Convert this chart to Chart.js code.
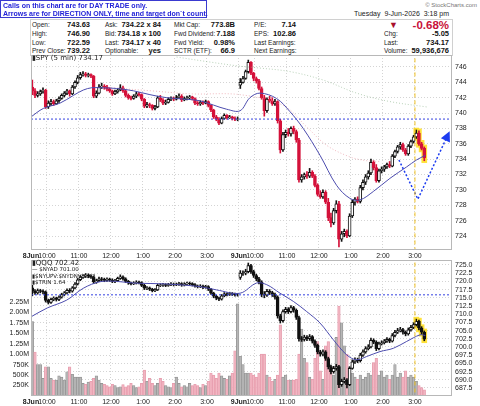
<!DOCTYPE html>
<html>
<head>
<meta charset="utf-8">
<script src="https://cdn.jsdelivr.net/npm/chart.js@4.4.1/dist/chart.umd.min.js"></script>
<style>
    body { margin: 0; width: 480px; height: 406px; position: relative; overflow: hidden; background: #fff;
           font-family: "Liberation Sans", Arial, sans-serif; }
    .t { position: absolute; white-space: nowrap; font-size: 6.5px; line-height: 10px; color: #222; }
    .v { font-weight: bold; font-size: 7.5px; color: #111; }
    .lg { position: absolute; white-space: nowrap; font-family: "DejaVu Sans", sans-serif; color: #222; }
    #callout { position: absolute; left: 0; top: 0; width: 205px; height: 16px; border: 1px solid #3a3ad0;
               background: #fff; z-index: 3; }
    #callout div { position: absolute; left: 2px; font-weight: bold; font-size: 7px; line-height: 8px; color: #2323d8;
                   white-space: nowrap; }
    #table { position: absolute; left: 30px; top: 19px; width: 421px; height: 36px; border: 1px solid #d0d0d0; border-bottom: none; }
    canvas { position: absolute; left: 0; }
</style>
</head>
<body>

<div id="callout">
    <div style="top:1px">Calls on this chart are for DAY TRADE only.</div>
    <div style="top:9px">Arrows are for DIRECTION ONLY, time and target don`t count.</div>
</div>
<div id="table"></div>

<div class="t" style="right:3px;top:0px;font-size:6px;color:#777">&copy; StockCharts.com</div>
<div class="t" style="right:31px;top:9px;font-size:7px">Tuesday&nbsp; 9-Jun-2026&nbsp; 3:18 pm</div>

<!-- row 1 -->
<div class="t" style="left:32px;top:20px">Open:</div>
<div class="t v" style="right:390px;top:20px">743.63</div>
<div class="t" style="left:105px;top:20px">Ask:</div>
<div class="t v" style="right:319px;top:20px">734.22 x 84</div>
<div class="t" style="left:174px;top:20px">Mkt Cap:</div>
<div class="t v" style="right:245px;top:20px">773.8B</div>
<div class="t" style="left:254px;top:20px">P/E:</div>
<div class="t v" style="right:184px;top:20px">7.14</div>
<div class="t" style="left:389px;top:20px;color:#a8102c;font-size:9px">&#9660;</div>
<div class="t v" style="right:31px;top:19px;color:#c8103a;font-size:11.5px;line-height:12px">-0.68%</div>
<!-- row 2 -->
<div class="t" style="left:32px;top:29px">High:</div>
<div class="t v" style="right:390px;top:29px">746.90</div>
<div class="t" style="left:105px;top:29px">Bid:</div>
<div class="t v" style="right:319px;top:29px">734.18 x 100</div>
<div class="t" style="left:174px;top:29px">Fwd Dividend:</div>
<div class="t v" style="right:245px;top:29px">7.188</div>
<div class="t" style="left:254px;top:29px">EPS:</div>
<div class="t v" style="right:184px;top:29px">102.86</div>
<div class="t" style="left:384px;top:29px">Chg:</div>
<div class="t v" style="right:31px;top:29px">-5.05</div>
<!-- row 3 -->
<div class="t" style="left:32px;top:37.5px">Low:</div>
<div class="t v" style="right:390px;top:37.5px">722.59</div>
<div class="t" style="left:105px;top:37.5px">Last:</div>
<div class="t v" style="right:319px;top:37.5px">734.17 x 40</div>
<div class="t" style="left:174px;top:37.5px">Fwd Yield:</div>
<div class="t v" style="right:245px;top:37.5px">0.98%</div>
<div class="t" style="left:254px;top:37.5px">Last Earnings:</div>
<div class="t" style="left:384px;top:37.5px">Last:</div>
<div class="t v" style="right:31px;top:37.5px">734.17</div>
<!-- row 4 -->
<div class="t" style="left:32px;top:46px">Prev Close:</div>
<div class="t v" style="right:390px;top:46px">739.22</div>
<div class="t" style="left:105px;top:46px">Optionable:</div>
<div class="t v" style="right:319px;top:46px">yes</div>
<div class="t" style="left:174px;top:46px">SCTR (ETF):</div>
<div class="t v" style="right:245px;top:46px">66.9</div>
<div class="t" style="left:254px;top:46px">Next Earnings:</div>
<div class="t" style="left:384px;top:46px">Volume:</div>
<div class="t v" style="right:31px;top:46px">59,936,676</div>

<canvas id="spyChart" width="480" height="205" style="top:55px"></canvas>
<canvas id="qqqChart" width="480" height="146" style="top:260px"></canvas>

<div class="lg" style="left:32px;top:54px;font-size:7px;line-height:9px"><b>&#9646;</b>SPY (5 min) 734.17</div>
<div class="lg" style="left:32px;top:259px;font-size:7px;line-height:9px"><b>&#9646;</b>QQQ 702.42</div>
<div class="lg" style="left:32px;top:266px;font-size:5.5px;line-height:7px">&mdash;&nbsp;$NYAD 701.00</div>
<div class="lg" style="left:32px;top:272.5px;font-size:5.5px;line-height:7px"><b>&#9646;</b>$NYUPV:$NYDNV 1.02</div>
<div class="lg" style="left:32px;top:279px;font-size:5.5px;line-height:7px"><b>&#9646;</b>$TRIN 1.64</div>

<script>
document.addEventListener('DOMContentLoaded', function() {

    // ======================= //
    //          DATA           //
    // ======================= //
    // one entry per 5-min bar: 78 bars on 8 Jun, 70 bars on 9 Jun (to 3:15)
    const spyOpen = [
        743.4, 742.9, 742.3, 742.5, 742.8, 743.0, 740.8, 741.3, 741.5, 741.2,
        741.6, 741.9, 742.3, 742.6, 742.9, 742.5, 743.4, 744.0, 744.6, 745.0,
        745.1, 744.9, 745.0, 744.8, 742.2, 742.6, 743.4, 743.5, 743.4, 743.1,
        742.9, 742.5, 742.8, 743.0, 743.3, 742.9, 742.3, 742.0, 741.9, 742.2,
        742.5, 742.4, 741.8, 740.9, 741.1, 741.0, 740.6, 740.8, 742.0, 741.7,
        741.3, 741.4, 741.8, 741.9, 741.8, 742.0, 742.2, 741.7, 741.9, 742.0,
        742.1, 741.9, 741.3, 741.2, 741.4, 741.3, 741.5, 741.0, 740.4, 739.5,
        739.2, 738.7, 739.3, 739.7, 739.4, 739.5, 739.3, 739.2,
        743.63, 744.0, 744.5, 745.4, 746.6, 745.2, 744.5, 744.2, 743.2, 742.0,
        740.3, 741.8, 741.6, 741.2, 741.5, 739.0, 735.2, 737.2, 737.5, 737.3,
        738.0, 737.6, 736.5, 731.3, 731.7, 732.0, 731.8, 732.3, 731.8, 730.6,
        729.4, 729.1, 729.7, 728.4, 726.4, 725.7, 727.3, 728.2, 723.6, 724.3,
        724.6, 724.0, 726.6, 728.4, 728.8, 728.5, 730.3, 731.0, 731.7, 732.2,
        733.6, 732.9, 731.2, 732.5, 732.7, 733.0, 733.3, 733.1, 734.4, 735.0,
        735.6, 735.9, 735.2, 734.7, 735.7, 736.3, 736.9, 737.4, 736.0, 735.4
    ];
    const spyHigh = [
        744.3, 743.2, 742.8, 743.0, 743.3, 743.1, 741.6, 741.8, 741.7, 741.8,
        742.1, 742.5, 742.8, 743.1, 743.0, 743.6, 744.2, 744.9, 745.3, 745.4,
        745.3, 745.2, 745.1, 744.9, 742.9, 743.7, 743.9, 743.7, 743.6, 743.3,
        743.0, 743.0, 743.2, 743.7, 743.5, 743.0, 742.5, 742.2, 742.4, 742.7,
        742.7, 742.5, 741.9, 741.4, 741.3, 741.1, 741.0, 742.2, 742.3, 741.9,
        741.7, 742.0, 742.1, 742.1, 742.3, 742.5, 742.4, 742.1, 742.2, 742.3,
        742.2, 742.0, 741.5, 741.6, 741.6, 741.7, 741.6, 741.1, 740.5, 739.7,
        739.4, 739.5, 739.9, 739.8, 739.7, 739.6, 739.5, 739.5,
        744.5, 744.8, 745.6, 746.9, 746.7, 745.3, 744.7, 744.4, 743.4, 742.3,
        742.0, 742.2, 742.0, 741.8, 741.6, 739.2, 737.5, 737.8, 738.0, 738.2,
        738.3, 737.8, 736.7, 732.0, 732.2, 732.4, 732.8, 732.5, 732.0, 730.8,
        729.9, 730.0, 729.9, 728.9, 727.0, 727.6, 728.6, 728.5, 724.6, 724.9,
        724.8, 726.9, 728.7, 729.0, 729.1, 730.6, 731.3, 732.0, 732.5, 734.0,
        733.8, 733.3, 732.7, 733.0, 733.2, 733.5, 733.7, 734.6, 735.2, 735.8,
        736.2, 736.1, 735.4, 735.9, 736.5, 737.1, 737.8, 737.7, 736.2, 735.6
    ];
    const spyLow = [
        742.4, 742.0, 742.1, 742.3, 742.6, 740.6, 740.6, 741.0, 741.0, 741.1,
        741.4, 741.8, 742.1, 742.4, 742.2, 742.4, 743.2, 743.8, 744.4, 744.8,
        744.7, 744.7, 744.6, 742.0, 742.0, 742.5, 743.2, 743.1, 742.9, 742.7,
        742.3, 742.4, 742.6, 742.9, 742.7, 742.1, 741.8, 741.7, 741.8, 742.0,
        742.2, 741.6, 740.7, 740.7, 740.7, 740.4, 740.4, 740.7, 741.5, 741.1,
        741.1, 741.3, 741.6, 741.6, 741.7, 741.9, 741.5, 741.6, 741.7, 741.8,
        741.7, 741.1, 741.0, 741.0, 741.1, 741.2, 740.8, 740.2, 739.3, 739.0,
        738.5, 738.6, 739.2, 739.2, 739.3, 739.1, 739.0, 739.0,
        743.2, 743.9, 744.4, 745.2, 745.0, 744.2, 743.9, 743.0, 741.8, 739.6,
        740.1, 741.4, 741.0, 741.0, 738.7, 734.8, 735.0, 736.8, 737.0, 737.0,
        737.3, 736.2, 731.0, 731.0, 731.4, 731.5, 731.6, 731.6, 730.4, 729.2,
        728.9, 728.9, 728.2, 726.0, 725.2, 725.5, 727.0, 722.59, 723.3, 723.9,
        723.8, 723.9, 726.4, 728.0, 728.3, 728.3, 730.0, 730.7, 731.4, 732.0,
        732.6, 731.0, 731.0, 732.2, 732.4, 732.8, 732.9, 733.0, 734.2, 734.8,
        735.3, 735.0, 734.5, 734.5, 735.5, 736.1, 736.7, 735.8, 735.2, 733.8
    ];
    const spyClose = [
        742.9, 742.3, 742.5, 742.8, 743.0, 740.8, 741.3, 741.5, 741.2, 741.6,
        741.9, 742.3, 742.6, 742.9, 742.5, 743.4, 744.0, 744.6, 745.0, 745.1,
        744.9, 745.0, 744.8, 742.2, 742.6, 743.4, 743.5, 743.4, 743.1, 742.9,
        742.5, 742.8, 743.0, 743.3, 742.9, 742.3, 742.0, 741.9, 742.2, 742.5,
        742.4, 741.8, 740.9, 741.1, 741.0, 740.6, 740.8, 742.0, 741.7, 741.3,
        741.4, 741.8, 741.9, 741.8, 742.0, 742.2, 741.7, 741.9, 742.0, 742.1,
        741.9, 741.3, 741.2, 741.4, 741.3, 741.5, 741.0, 740.4, 739.5, 739.2,
        738.7, 739.3, 739.7, 739.4, 739.5, 739.3, 739.2, 739.22,
        744.0, 744.5, 745.4, 746.6, 745.2, 744.5, 744.2, 743.2, 742.0, 740.3,
        741.8, 741.6, 741.2, 741.5, 739.0, 735.2, 737.2, 737.5, 737.3, 738.0,
        737.6, 736.5, 731.3, 731.7, 732.0, 731.8, 732.3, 731.8, 730.6, 729.4,
        729.1, 729.7, 728.4, 726.4, 725.7, 727.3, 728.2, 723.6, 724.3, 724.6,
        724.0, 726.6, 728.4, 728.8, 728.5, 730.3, 731.0, 731.7, 732.2, 733.6,
        732.9, 731.2, 732.5, 732.7, 733.0, 733.3, 733.1, 734.4, 735.0, 735.6,
        735.9, 735.2, 734.7, 735.7, 736.3, 736.9, 737.4, 736.0, 735.4, 734.17
    ];

    const qqqOpen = [
        718.0, 717.0, 716.5, 717.2, 717.0, 716.8, 714.2, 713.6, 714.5, 714.8,
        714.5, 715.2, 716.0, 716.5, 717.3, 717.0, 718.0, 719.2, 720.5, 721.3,
        721.6, 721.9, 721.6, 721.4, 719.8, 720.2, 720.8, 720.6, 720.3, 720.7,
        720.4, 720.0, 720.2, 720.9, 721.4, 720.8, 720.0, 719.5, 719.3, 719.5,
        719.8, 719.6, 718.8, 717.9, 718.0, 717.6, 717.2, 717.4, 718.8, 718.9,
        719.0, 718.8, 719.0, 719.2, 719.0, 719.1, 719.3, 718.9, 719.2, 719.4,
        719.3, 719.0, 718.6, 718.4, 718.6, 718.2, 718.4, 717.6, 716.4, 715.5,
        714.9, 714.6, 715.6, 716.2, 716.0, 716.3, 716.1, 715.9,
        721.2, 722.5, 722.5, 723.0, 724.8, 723.0, 721.8, 720.8, 719.8, 716.0,
        715.8, 717.0, 716.6, 716.0, 715.2, 709.5, 708.0, 710.8, 711.5, 710.8,
        712.0, 711.2, 709.0, 702.5, 702.3, 703.0, 702.5, 703.2, 701.8, 700.5,
        698.5, 697.8, 698.5, 696.5, 694.0, 692.5, 693.5, 694.0, 688.5, 689.5,
        690.0, 688.5, 693.5, 695.5, 696.0, 695.8, 697.5, 698.5, 699.5, 700.0,
        702.0, 701.5, 699.5, 701.0, 701.3, 701.8, 702.3, 701.8, 703.5, 704.5,
        705.0, 705.3, 704.5, 704.0, 705.2, 706.0, 706.8, 707.8, 705.8, 704.5
    ];
    const qqqHigh = [
        718.8, 717.5, 717.7, 717.6, 717.4, 717.1, 714.6, 714.9, 715.3, 715.2,
        715.6, 716.4, 716.9, 717.7, 717.8, 718.4, 719.6, 720.9, 721.8, 722.1,
        722.4, 722.3, 722.0, 721.7, 720.7, 721.3, 721.2, 721.0, 721.1, 721.0,
        720.8, 720.6, 721.3, 722.0, 721.7, 721.1, 720.3, 719.8, 719.9, 720.2,
        720.1, 719.9, 719.1, 718.4, 718.3, 717.9, 717.8, 719.2, 719.3, 719.4,
        719.3, 719.4, 719.6, 719.5, 719.5, 719.7, 719.6, 719.6, 719.8, 719.8,
        719.6, 719.3, 718.9, 719.0, 718.9, 718.8, 718.7, 717.9, 716.7, 715.8,
        715.2, 716.0, 716.6, 716.5, 716.7, 716.6, 716.4, 716.3,
        723.3, 723.2, 723.7, 725.6, 725.2, 723.4, 722.2, 721.2, 720.2, 716.9,
        717.6, 717.5, 717.0, 716.4, 715.6, 710.0, 711.3, 712.1, 712.0, 712.6,
        712.4, 711.6, 709.4, 703.2, 703.6, 703.5, 703.8, 703.5, 702.2, 700.9,
        699.0, 699.1, 698.9, 696.9, 694.5, 694.1, 694.7, 694.4, 690.2, 690.7,
        690.4, 694.0, 696.1, 696.7, 696.6, 698.1, 699.1, 700.1, 700.7, 702.7,
        702.5, 701.9, 701.5, 701.9, 702.3, 702.9, 702.7, 704.1, 705.1, 705.7,
        706.0, 705.7, 704.9, 705.8, 706.6, 707.4, 708.5, 708.2, 706.2, 704.9
    ];
    const qqqLow = [
        715.6, 716.0, 716.1, 716.5, 716.2, 713.7, 713.1, 713.3, 714.1, 714.0,
        714.1, 714.9, 715.6, 716.2, 716.5, 716.7, 717.7, 718.9, 720.2, 720.9,
        721.2, 721.1, 720.9, 719.3, 719.4, 719.9, 720.2, 719.9, 720.0, 720.0,
        719.6, 719.6, 719.9, 720.6, 720.4, 719.6, 719.1, 718.9, 719.0, 719.2,
        719.2, 718.4, 717.5, 717.5, 717.2, 716.8, 716.9, 717.2, 718.4, 718.5,
        718.4, 718.5, 718.7, 718.6, 718.7, 718.8, 718.5, 718.6, 718.9, 718.9,
        718.6, 718.2, 718.0, 718.1, 717.8, 717.9, 717.2, 716.0, 715.0, 714.4,
        714.1, 714.3, 715.3, 715.6, 715.7, 715.7, 715.5, 715.5,
        720.6, 721.8, 722.0, 722.6, 722.4, 721.2, 720.2, 719.2, 715.3, 715.0,
        715.4, 716.0, 715.4, 714.6, 708.8, 707.3, 707.6, 710.3, 710.2, 710.4,
        710.6, 708.4, 701.8, 701.7, 701.8, 701.9, 702.0, 701.2, 699.9, 697.9,
        697.2, 697.3, 695.9, 693.3, 691.8, 692.0, 692.9, 687.6, 688.0, 689.0,
        687.5, 688.2, 693.2, 695.0, 695.2, 695.4, 697.1, 698.1, 699.1, 699.7,
        701.0, 698.9, 699.1, 700.6, 700.9, 701.4, 701.3, 701.5, 703.1, 704.1,
        704.6, 703.9, 703.4, 703.6, 704.8, 705.6, 706.4, 705.2, 703.9, 701.9
    ];
    const qqqClose = [
        717.0, 716.5, 717.2, 717.0, 716.8, 714.2, 713.6, 714.5, 714.8, 714.5,
        715.2, 716.0, 716.5, 717.3, 717.0, 718.0, 719.2, 720.5, 721.3, 721.6,
        721.9, 721.6, 721.4, 719.8, 720.2, 720.8, 720.6, 720.3, 720.7, 720.4,
        720.0, 720.2, 720.9, 721.4, 720.8, 720.0, 719.5, 719.3, 719.5, 719.8,
        719.6, 718.8, 717.9, 718.0, 717.6, 717.2, 717.4, 718.8, 718.9, 719.0,
        718.8, 719.0, 719.2, 719.0, 719.1, 719.3, 718.9, 719.2, 719.4, 719.3,
        719.0, 718.6, 718.4, 718.6, 718.2, 718.4, 717.6, 716.4, 715.5, 714.9,
        714.6, 715.6, 716.2, 716.0, 716.3, 716.1, 715.9, 715.9,
        722.5, 722.5, 723.0, 724.8, 723.0, 721.8, 720.8, 719.8, 716.0, 715.8,
        717.0, 716.6, 716.0, 715.2, 709.5, 708.0, 710.8, 711.5, 710.8, 712.0,
        711.2, 709.0, 702.5, 702.3, 703.0, 702.5, 703.2, 701.8, 700.5, 698.5,
        697.8, 698.5, 696.5, 694.0, 692.5, 693.5, 694.0, 688.5, 689.5, 690.0,
        688.5, 693.5, 695.5, 696.0, 695.8, 697.5, 698.5, 699.5, 700.0, 702.0,
        701.5, 699.5, 701.0, 701.3, 701.8, 702.3, 701.8, 703.5, 704.5, 705.0,
        705.3, 704.5, 704.0, 705.2, 706.0, 706.8, 707.8, 705.8, 704.5, 702.42
    ];

    // volume in millions of shares
    const volume = [
        1.78, 1.05, 0.75, 0.75, 0.42, 0.70, 0.70, 0.42, 0.38, 0.38,
        0.48, 0.45, 0.38, 0.58, 0.70, 0.52, 0.45, 0.45, 0.45, 0.30,
        0.28, 0.33, 0.35, 0.42, 0.48, 0.38, 0.30, 0.28, 0.25, 0.22,
        0.28, 0.25, 0.20, 0.22, 0.27, 0.22, 0.25, 0.30, 0.25, 0.20,
        0.22, 0.30, 0.62, 0.35, 0.42, 0.30, 0.25, 0.30, 0.42, 0.35,
        0.25, 0.22, 0.20, 0.30, 0.45, 0.30, 0.22, 0.25, 0.22, 0.30,
        0.25, 0.28, 0.25, 0.20, 0.28, 0.25, 0.35, 0.55, 0.50, 0.42,
        0.55, 0.48, 0.42, 0.40, 0.48, 0.55, 1.08, 2.20,
        0.95, 0.75, 0.55, 0.55, 0.55, 0.50, 0.45, 0.55, 1.00, 1.00,
        0.50, 0.45, 0.35, 0.40, 0.50, 1.70, 0.45, 0.50, 0.38, 0.38,
        0.38, 0.40, 1.00, 1.60, 0.90, 0.80, 0.45, 0.40, 0.90, 1.30,
        0.60, 0.40, 1.20, 1.30, 0.70, 0.50, 1.40, 2.15, 1.75, 1.20,
        1.00, 0.70, 0.55, 0.45, 0.40, 0.50, 0.40, 0.45, 0.55, 0.50,
        0.80, 0.90, 0.50, 0.60, 0.45, 0.50, 0.40, 0.50, 0.75, 0.45,
        0.55, 0.45, 0.60, 0.45, 0.50, 0.45, 0.35, 0.25, 0.20, 0.15
    ];

    // moving averages (x = bar position)
    const spyMaX  = [0, 4.6, 10.9, 15.9, 19.6, 22.8, 25.9, 32.1, 38.4, 44.6, 50.9, 58.4, 63.4, 68.4, 73.4, 78.4,
                     82.1, 85.9, 92.1, 97.1, 102.1, 108.4, 114.6, 119.6, 123.4, 128.4, 134.6, 140.9, 144.6, 147.9];
    const spyMaY  = [739.5, 740.6, 741.3, 742.3, 743.0, 743.3, 743.3, 743.2, 742.9, 742.4, 742.0, 741.8, 741.6, 741.05, 740.5, 740.3,
                     742.0, 742.6, 741.9, 740.2, 738.0, 734.5, 730.6, 728.9, 728.7, 729.8, 731.5, 733.0, 733.9, 734.5];
    const spyMa50X = [30, 45, 60, 78.4, 94.6, 103.4, 110.9, 119.6, 125.9, 130.9];
    const spyMa50Y = [743.3, 742.9, 742.5, 742.4, 741.0, 738.2, 735.8, 734.3, 733.8, 733.7];
    const spyMa200X = [54.6, 66, 78.4, 84.6, 97.1, 109.6, 122.1, 134.6, 148.4];
    const spyMa200Y = [747.3, 746.7, 746.1, 745.9, 745.4, 744.3, 742.6, 741.5, 740.8];

    const qqqMaX = [0, 6.1, 13.4, 19.6, 25.9, 32.1, 38.4, 50.9, 63.4, 69.6, 78.4,
                    84.6, 88.4, 93.4, 98.4, 103.4, 108.4, 113.4, 118.4, 122.1, 125.9, 130.9, 135.9, 140.9, 145.9, 147.9];
    const qqqMaY = [709.2, 711.9, 714.3, 717.9, 719.9, 720.0, 719.5, 719.2, 718.4, 717.4, 716.4,
                    719.5, 719.0, 716.4, 713.9, 710.8, 707.3, 702.2, 697.6, 696.1, 697.1, 698.6, 699.6, 701.7, 703.7, 703.5];

    const spyPrevClose = 739.22;
    const qqqPrevClose = 715.9;
    const arrowX = [138, 145.1, 156.7];
    const arrowY = [733.9, 728.8, 737.4];
    const markerX = 144;          // 3:00 pm on 9 Jun
    const highlightFrom = 144;    // last four bars are highlighted

    const xTickValues = [0, 6, 18, 30, 42, 54, 66, 78, 84, 96, 108, 120, 132, 144];
    const xTickLabels = ['8Jun', '10:00', '11:00', '12:00', '1:00', '2:00', '3:00',
                         '9Jun', '10:00', '11:00', '12:00', '1:00', '2:00', '3:00'];
    const spyTicks = [724, 726, 728, 730, 732, 734, 736, 738, 740, 742, 744, 746];
    const qqqTicks = [687.5, 690, 692.5, 695, 697.5, 700, 702.5, 705, 707.5, 710, 712.5, 715, 717.5, 720, 722.5, 725];
    const volTicks = [0.25, 0.5, 0.75, 1, 1.25, 1.5, 1.75, 2, 2.25];
    const volTickLabels = ['250K', '500K', '750K', '1.00M', '1.25M', '1.50M', '1.75M', '2.00M', '2.25M'];

    // ======================= //
    //        HELPERS          //
    // ======================= //
    const X_MAX = 157.9;
    const RED = '#d4113a';
    const GRID = '#d4d4d4';
    const FONT = '"Liberation Sans", Arial, sans-serif';

    const bars = (lo, hi) => lo.map((v, i) => ({ x: i + 0.5, y: [lo[i], hi[i]] }));
    const pts = (xs, ys) => xs.map((x, i) => ({ x: x, y: ys[i] }));
    const isUp = (o, c, i) => c[i] >= o[i];

    // chart.js keeps room for half a tick label at the ends; the panels here run edge to edge
    const noPad = s => { s.paddingTop = 0; s.paddingBottom = 0; s.paddingLeft = 0; s.paddingRight = 0; };

    function xScale() {
        return {
            type: 'linear', min: 0, max: X_MAX, offset: false,
            afterBuildTicks: s => { s.ticks = xTickValues.map(v => ({ value: v })); },
            afterFit: s => { s.height = 10; noPad(s); },
            grid: { color: c => c.index === 0 ? 'rgba(0,0,0,0)' : GRID, drawTicks: false, offset: false },
            border: { display: false, dash: [1, 2] },
            ticks: {
                autoSkip: false, maxRotation: 0, padding: 2, color: '#222',
                font: c => ({ family: FONT, size: 7, weight: c.index === 0 || c.index === 7 ? 'bold' : 'normal' }),
                callback: (v, i) => xTickLabels[i]
            }
        };
    }

    function lineSet(data, color, opts) {
        return Object.assign({
            type: 'line', data: data, borderColor: color, borderWidth: 1,
            pointRadius: 0, fill: false, tension: 0.35, order: 3
        }, opts || {});
    }

    const framePlugin = {
        id: 'frame',
        afterDraw(chart) {
            const a = chart.chartArea, ctx = chart.ctx;
            ctx.save();
            ctx.strokeStyle = '#b8b8b8';
            ctx.lineWidth = 1;
            ctx.strokeRect(Math.round(a.left) + 0.5, Math.round(a.top) + 0.5,
                           Math.round(a.right - a.left) - 1, Math.round(a.bottom - a.top) - 1);
            ctx.restore();
        }
    };

    const arrowPlugin = {
        id: 'arrowHead',
        afterDatasetsDraw(chart) {
            const xs = chart.scales.x, ys = chart.scales.y;
            const n = arrowX.length;
            const x1 = xs.getPixelForValue(arrowX[n - 2]), y1 = ys.getPixelForValue(arrowY[n - 2]);
            const x2 = xs.getPixelForValue(arrowX[n - 1]), y2 = ys.getPixelForValue(arrowY[n - 1]);
            const ang = Math.atan2(y2 - y1, x2 - x1);
            const ctx = chart.ctx;
            ctx.save();
            ctx.translate(x2, y2);
            ctx.rotate(ang);
            ctx.fillStyle = '#1d3cf0';
            ctx.beginPath();
            ctx.moveTo(2, 0);
            ctx.lineTo(-8, -5);
            ctx.lineTo(-8, 5);
            ctx.closePath();
            ctx.fill();
            ctx.restore();
        }
    };

    // ======================= //
    //        SPY PANEL        //
    // ======================= //
    const spyWickColors = spyClose.map((c, i) => isUp(spyOpen, spyClose, i) ? '#111' : RED);
    const spyBodyFill = spyClose.map((c, i) => isUp(spyOpen, spyClose, i) ? '#fff' : RED);
    const spyHighlight = bars(spyLow, spyHigh).slice(highlightFrom)
        .map(p => ({ x: p.x, y: [p.y[0] - 0.25, p.y[1] + 0.25] }));

    new Chart(document.getElementById('spyChart').getContext('2d'), {
        type: 'bar',
        data: {
            datasets: [
                lineSet([{ x: markerX, y: 722 }, { x: markerX, y: 748 }], '#f0c020',
                        { borderDash: [4, 3], tension: 0, order: 0 }),
                lineSet(pts(arrowX, arrowY), '#1d3cf0',
                        { borderDash: [2, 2], borderWidth: 1.5, tension: 0, order: 1 }),
                lineSet([{ x: 0, y: spyPrevClose }, { x: X_MAX, y: spyPrevClose }], '#3340e0',
                        { borderDash: [2, 2], tension: 0, order: 2 }),
                lineSet(pts(spyMaX, spyMaY), '#4c4cae', { order: 3 }),
                lineSet(pts(spyMa50X, spyMa50Y), 'rgba(230,140,150,0.6)', { borderDash: [1, 2], order: 4 }),
                lineSet(pts(spyMa200X, spyMa200Y), 'rgba(140,180,140,0.6)', { borderDash: [1, 2], order: 4 }),
                {
                    data: bars(spyOpen, spyClose), grouped: false, barThickness: 3,
                    backgroundColor: spyBodyFill, borderColor: spyWickColors, borderWidth: 1,
                    borderSkipped: false, order: 5
                },
                {
                    data: bars(spyLow, spyHigh), grouped: false, barThickness: 1,
                    backgroundColor: spyWickColors, order: 6
                },
                {
                    data: spyHighlight, grouped: false, barThickness: 5, backgroundColor: '#ffe23a', order: 7
                }
            ]
        },
        options: {
            responsive: false, animation: false, events: [],
            layout: { padding: { left: 31, right: 0, top: 0, bottom: 0 } },
            plugins: { legend: { display: false }, tooltip: { enabled: false } },
            scales: {
                x: xScale(),
                y: {
                    type: 'linear', position: 'right', min: 722.18, max: 747.56,
                    afterBuildTicks: s => { s.ticks = spyTicks.map(v => ({ value: v })); },
                    afterFit: s => { s.width = 28; noPad(s); },
                    grid: { color: GRID, drawTicks: false },
                    border: { display: false, dash: [1, 2] },
                    ticks: { autoSkip: false, padding: 3, color: '#222', font: { family: FONT, size: 7 },
                             callback: v => String(v) }
                }
            }
        },
        plugins: [framePlugin, arrowPlugin]
    });

    // ======================= //
    //        QQQ PANEL        //
    // ======================= //
    const qqqFill = qqqClose.map((c, i) => isUp(qqqOpen, qqqClose, i) ? '#fff' : '#111');
    const volDown = volume.map((v, i) => i > 0 && spyClose[i] < spyClose[i - 1]);
    const volFill = volDown.map(d => d ? 'rgba(240,172,186,0.8)' : 'rgba(178,178,178,0.9)');
    const volEdge = volDown.map(d => d ? '#e59cad' : '#909090');
    const qqqHighlight = bars(qqqLow, qqqHigh).slice(highlightFrom)
        .map(p => ({ x: p.x, y: [p.y[0] - 0.6, p.y[1] + 0.6] }));

    new Chart(document.getElementById('qqqChart').getContext('2d'), {
        type: 'bar',
        data: {
            datasets: [
                lineSet([{ x: markerX, y: 684 }, { x: markerX, y: 727 }], '#f0c020',
                        { borderDash: [4, 3], tension: 0, order: 0, yAxisID: 'y' }),
                lineSet([{ x: 0, y: qqqPrevClose }, { x: X_MAX, y: qqqPrevClose }], '#3340e0',
                        { borderDash: [2, 2], tension: 0, order: 2, yAxisID: 'y' }),
                lineSet(pts(qqqMaX, qqqMaY), '#4c4cae', { order: 3, yAxisID: 'y' }),
                {
                    data: bars(qqqOpen, qqqClose), grouped: false, barThickness: 3, yAxisID: 'y',
                    backgroundColor: qqqFill, borderColor: '#111', borderWidth: 1,
                    borderSkipped: false, order: 5
                },
                {
                    data: bars(qqqLow, qqqHigh), grouped: false, barThickness: 1, yAxisID: 'y',
                    backgroundColor: '#111', order: 6
                },
                {
                    data: qqqHighlight, grouped: false, barThickness: 5, yAxisID: 'y',
                    backgroundColor: '#ffe23a', order: 7
                },
                {
                    data: volume.map((v, i) => ({ x: i + 0.5, y: v })), grouped: false, barThickness: 2.6,
                    yAxisID: 'vol', backgroundColor: volFill, borderColor: volEdge, borderWidth: 0.6,
                    borderSkipped: 'start', order: 10
                }
            ]
        },
        options: {
            responsive: false, animation: false, events: [],
            layout: { padding: 0 },
            plugins: { legend: { display: false }, tooltip: { enabled: false } },
            scales: {
                x: xScale(),
                y: {
                    type: 'linear', position: 'right', min: 685.06, max: 726.52,
                    afterBuildTicks: s => { s.ticks = qqqTicks.map(v => ({ value: v })); },
                    afterFit: s => { s.width = 28; noPad(s); },
                    grid: { color: GRID, drawTicks: false },
                    border: { display: false, dash: [1, 2] },
                    ticks: { autoSkip: false, padding: 3, color: '#222', font: { family: FONT, size: 7 },
                             callback: v => v.toFixed(1) }
                },
                vol: {
                    type: 'linear', position: 'left', min: 0, max: 3.25,
                    afterBuildTicks: s => { s.ticks = volTicks.map(v => ({ value: v })); },
                    afterFit: s => { s.width = 31; noPad(s); },
                    grid: { display: false, drawTicks: false },
                    border: { display: false },
                    ticks: { autoSkip: false, padding: 2, color: '#222', font: { family: FONT, size: 7 },
                             callback: (v, i) => volTickLabels[i] }
                }
            }
        },
        plugins: [framePlugin]
    });
});
</script>
</body>
</html>
